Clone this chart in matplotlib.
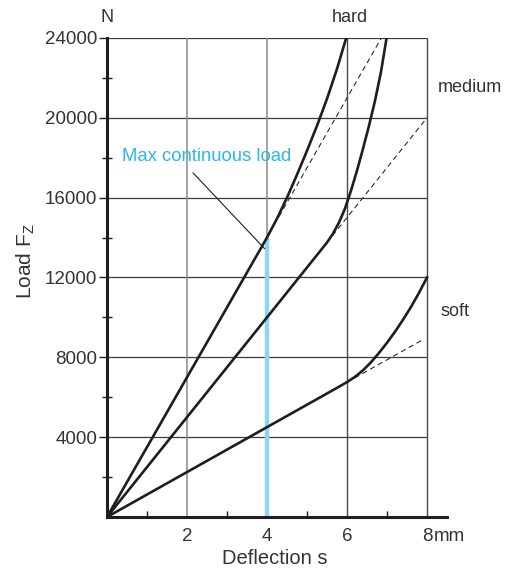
import matplotlib
matplotlib.use("Agg")
import matplotlib.pyplot as plt
from matplotlib.ticker import FixedLocator

plt.rcParams['font.family'] = ['Liberation Sans', 'DejaVu Sans']
plt.rcParams['mathtext.fontset'] = 'custom'
plt.rcParams['mathtext.rm'] = 'Liberation Sans'

# deflection s (mm) / load Fz (N)
hard_s = [0, 4.0, 4.25, 4.5, 4.75, 5.0, 5.25, 5.5, 5.75, 5.98]
hard_f = [0, 14000, 14950, 16000, 17150, 18350, 19600, 20950, 22450, 24000]
hard_lin_s = [4.3, 6.86]
hard_lin_f = [15050, 24000]

medium_s = [0, 5.5, 5.65, 5.8, 5.95, 6.1, 6.25, 6.4, 6.55, 6.7, 6.85, 6.99]
medium_f = [0, 13750, 14200, 14750, 15450, 16350, 17350, 18450, 19600, 20850, 22300, 24000]
medium_lin_s = [5.5, 8.0]
medium_lin_f = [13750, 20000]

soft_s = [0, 5.8, 6.0, 6.2, 6.4, 6.6, 6.8, 7.0, 7.2, 7.4, 7.6, 7.8, 8.0]
soft_f = [0, 6525, 6760, 7020, 7350, 7750, 8220, 8730, 9280, 9880, 10520, 11230, 12000]
soft_lin_s = [6.0, 7.88]
soft_lin_f = [6750, 8865]

max_load_s = 4.0
max_load_f = 14000

x_ticks = [2, 4, 6, 8]
x_minor = [1, 3, 5, 7]
y_ticks = [4000, 8000, 12000, 16000, 20000, 24000]
y_minor = [2000, 6000, 10000, 14000, 18000, 22000]

txt = '#333333'
ink = '#1e1e1e'

fig = plt.figure(figsize=(5.12, 5.71), dpi=100)
ax = fig.add_axes([0.209, 0.0946, 0.664, 0.8389])
ax.set_xlim(0, 8.5)
ax.set_ylim(0, 24000)

# grid, only up to 8 mm
ax.hlines(y_ticks, 0, 8, color='#3a3a3a', lw=0.9, zorder=1)
ax.vlines([2, 4], 0, 24000, color='#8a8a8a', lw=1.1, zorder=1)
ax.vlines([6, 8], 0, 24000, color='#4a4a4a', lw=1.0, zorder=1)

ax.vlines(max_load_s, 0, max_load_f, color='#8fd6f4', lw=3.2, zorder=2)

for s, f in [(hard_lin_s, hard_lin_f), (medium_lin_s, medium_lin_f), (soft_lin_s, soft_lin_f)]:
    ax.plot(s, f, color=ink, lw=0.75, dashes=(5, 3.5), zorder=3)
for s, f in [(hard_s, hard_f), (medium_s, medium_f), (soft_s, soft_f)]:
    ax.plot(s, f, color=ink, lw=1.9, zorder=4, solid_joinstyle='round')

ax.annotate('', xy=(3.99, 13340), xytext=(2.1, 17350),
            arrowprops=dict(arrowstyle='-', color=ink, lw=0.8))
ax.text(0.375, 18040, 'Max continuous load', color='#2bb7ea', fontsize=13.3,
        va='center', ha='left')

for sp in ['top', 'right']:
    ax.spines[sp].set_visible(False)
ax.spines['left'].set_linewidth(2.2)
ax.spines['bottom'].set_linewidth(2.2)
ax.spines['left'].set_color(ink)
ax.spines['bottom'].set_color(ink)

ax.set_xticks(x_ticks)
ax.set_xticklabels([str(v) for v in x_ticks])
ax.xaxis.set_minor_locator(FixedLocator(x_minor))
ax.tick_params(axis='x', which='major', length=0, pad=8, labelsize=13.5, labelcolor=txt)
ax.tick_params(axis='x', which='minor', direction='in', length=4, width=1.0, color=ink)

ax.set_yticks(y_ticks)
ax.set_yticklabels([str(v) for v in y_ticks])
ax.yaxis.set_minor_locator(FixedLocator(y_minor))
ax.tick_params(axis='y', which='major', direction='out', length=6, width=1.0,
               color=ink, pad=1, labelsize=13.5, labelcolor=txt)
ax.tick_params(axis='y', which='minor', direction='inout', length=7, width=1.0, color=ink)

# unit after the last x tick label
ax.annotate('mm', xy=(8, 0), xytext=(5.2, -8), textcoords='offset points',
            fontsize=13.5, color=txt, ha='left', va='top', annotation_clip=False)

ax.set_xlabel('Deflection s', fontsize=14.5, color=txt)
ax.xaxis.set_label_coords(0.493, -0.066)
ax.set_ylabel('Load F$_\\mathregular{Z}$', fontsize=15, color=txt)
ax.yaxis.set_label_coords(-0.206, 0.535)

fig.text(107 / 512, 1 - 18 / 571, 'N', fontsize=13, color=txt, ha='center', va='center')
fig.text(350 / 512, 1 - 18 / 571, 'hard', fontsize=13, color=txt, ha='center', va='center')
fig.text(470 / 512, 1 - 87 / 571, 'medium', fontsize=13, color=txt, ha='center', va='center')
fig.text(455 / 512, 1 - 312 / 571, 'soft', fontsize=13, color=txt, ha='center', va='center')

fig.savefig('out.png', dpi=100)
